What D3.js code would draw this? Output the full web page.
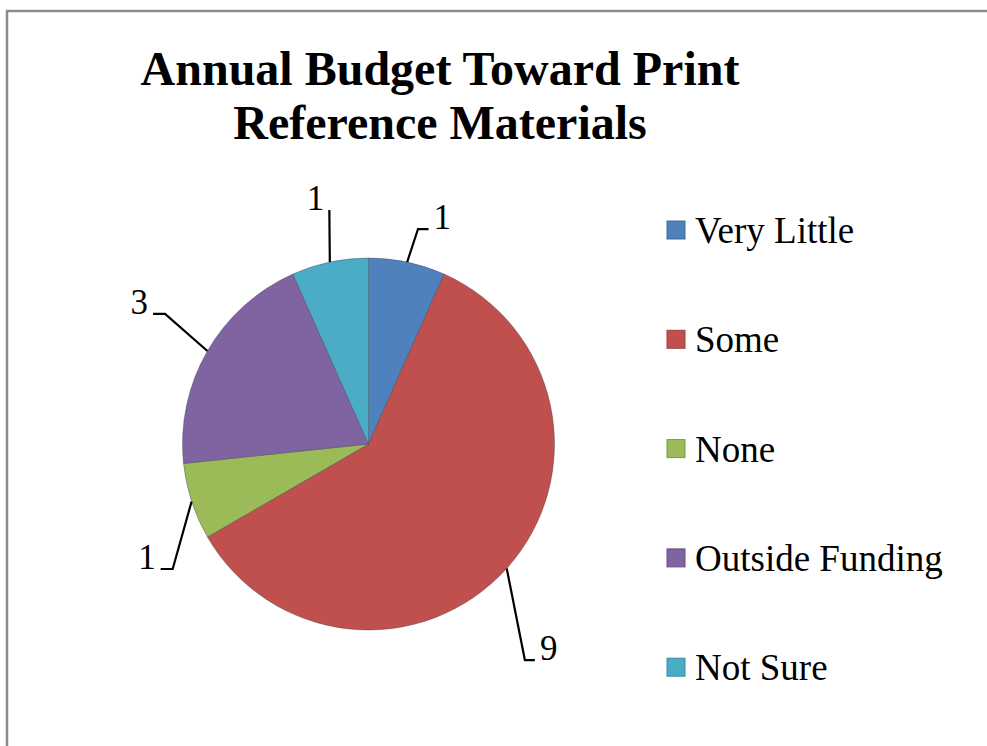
<!DOCTYPE html>
<html>
<head>
<meta charset="utf-8">
<script src="https://cdn.jsdelivr.net/npm/d3@7"></script>
<style>
  html, body { margin: 0; padding: 0; background: #fff; }
  svg { display: block; }
  text { font-family: "Liberation Serif", "Times New Roman", serif; fill: #000; }
</style>
</head>
<body>
<svg id="chart" width="987" height="746"></svg>
<script>
// Survey responses: annual budget toward print reference materials
const categories = ["Very Little", "Some", "None", "Outside Funding", "Not Sure"];
const counts = [1, 9, 1, 3, 1];
const colors = ["#4F81BD", "#C0504D", "#9BBB59", "#8064A2", "#4BACC6"];
const titleLines = ["Annual Budget Toward Print", "Reference Materials"];

// Where each leader line bends (polar, around the pie centre) and the
// length/direction of its short horizontal tail toward the label.
const labelLayout = [
  { bendAngle: 12.97, bendRadius: 220.6, tail: 10.5 },
  { bendAngle: 144.1, bendRadius: 266.7, tail: 10 },
  { bendAngle: 237.45, bendRadius: 232.3, tail: -12 },
  { bendAngle: 302.6, bendRadius: 241.5, tail: -12 },
  { bendAngle: 350.5, bendRadius: 237.3, tail: 0 }
];

const W = 987, H = 746;
const svg = d3.select("#chart");

// chart frame (runs off the right and bottom edges)
svg.append("rect")
  .attr("x", 7).attr("y", 11)
  .attr("width", W + 20).attr("height", H + 20)
  .attr("fill", "#fff")
  .attr("stroke", "#8c8c8c")
  .attr("stroke-width", 2.5);

// title
svg.append("text")
  .attr("x", 440).attr("y", 85)
  .attr("text-anchor", "middle")
  .style("font-size", "48px").style("font-weight", "bold")
  .selectAll("tspan").data(titleLines).join("tspan")
  .attr("x", 440)
  .attr("dy", (d, i) => i === 0 ? 0 : 54)
  .text(d => d);

// pie
const cx = 368.5, cy = 444, R = 186;
const color = d3.scaleOrdinal().domain(categories).range(colors);

const data = categories.map((c, i) => ({ category: c, value: counts[i] }));
const pie = d3.pie().value(d => d.value).sort(null);
const arcs = pie(data);
const arc = d3.arc().innerRadius(0).outerRadius(R);

const g = svg.append("g").attr("transform", `translate(${cx},${cy})`);
g.selectAll("path.slice").data(arcs).join("path")
  .attr("class", "slice")
  .attr("d", arc)
  .attr("fill", d => color(d.data.category))
  .attr("stroke", "rgba(50,50,70,0.35)")
  .attr("stroke-width", 1);

// data labels with leader lines
const rad = a => a * Math.PI / 180;
const polar = (aDeg, r) => [r * Math.sin(rad(aDeg)), -r * Math.cos(rad(aDeg))];

arcs.forEach((d, i) => {
  const mid = (d.startAngle + d.endAngle) / 2;
  const p0 = [R * Math.sin(mid), -R * Math.cos(mid)];
  const L = labelLayout[i];
  const p1 = polar(L.bendAngle, L.bendRadius);
  const p2 = [p1[0] + L.tail, p1[1]];
  g.append("polyline")
    .attr("points", [p0, p1, p2].map(p => p.join(",")).join(" "))
    .attr("fill", "none")
    .attr("stroke", "#000")
    .attr("stroke-width", 2.2)
    .attr("stroke-linejoin", "miter");
  const right = L.tail > 0;
  g.append("text")
    .attr("x", p2[0] + (right ? 5 : -5))
    .attr("y", p2[1])
    .attr("text-anchor", right ? "start" : "end")
    .style("font-size", "35px")
    .text(d.data.value);
});

// legend
const legend = svg.append("g");
const rows = legend.selectAll("g").data(categories).join("g")
  .attr("transform", (d, i) => `translate(667, ${243 + i * 109.3})`);
rows.append("rect")
  .attr("x", 0).attr("y", -22)
  .attr("width", 18).attr("height", 18)
  .attr("fill", d => color(d))
  .attr("stroke", d => d3.color(color(d)).darker(0.6))
  .attr("stroke-width", 1);
rows.append("text")
  .attr("x", 28).attr("y", 0)
  .style("font-size", "37px")
  .text(d => d);
</script>
</body>
</html>
